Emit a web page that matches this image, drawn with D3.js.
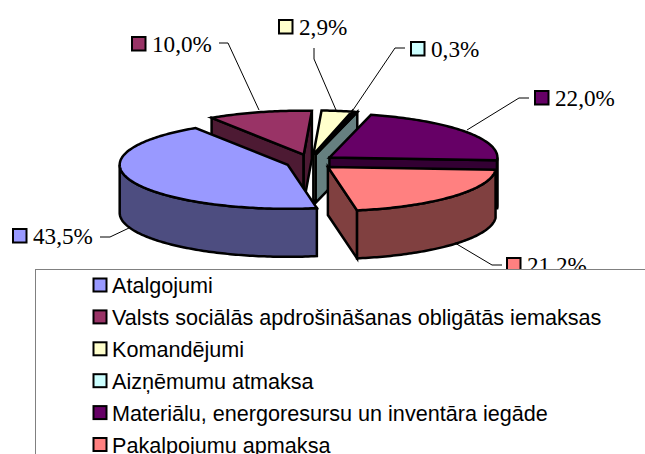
<!DOCTYPE html>
<html><head><meta charset="utf-8">
<script src="https://cdnjs.cloudflare.com/ajax/libs/d3/7.8.5/d3.min.js"></script>
<style>html,body{margin:0;padding:0;background:#fff;overflow:hidden}svg{display:block}</style>
</head><body><svg id="c" width="645" height="454"></svg>
<script>
const categories = ["Atalgojumi","Valsts sociālās apdrošināšanas obligātās iemaksas","Komandējumi","Aizņēmumu atmaksa","Materiālu, energoresursu un inventāra iegāde","Pakalpojumu apmaksa"];
const values = [43.5,10.0,2.9,0.3,22.0,21.2];
const valueLabels = ["43,5%","10,0%","2,9%","0,3%","22,0%","21,2%"];
const topColors = ["#9999FF","#993366","#FFFFCC","#CCFFFF","#660066","#FF8080"];
const sideColors = ["#4D4D80","#4D1A33","#808066","#668080","#330033","#804040"];
const drawOrder = [1,2,3,4,5,0];
const rad = Math.PI/180;
const W=645,H=454,cx=310,cy=162,rx=168,ry=44,depth=48,ex=24,ey=7.6;
const svg=d3.select("#c");
const arcs=d3.pie().sort(null).startAngle(170*rad).endAngle(530*rad)(values);
const line=d3.line();
const pt=(c,t,dy=0)=>[c[0]+rx*Math.sin(t),c[1]-ry*Math.cos(t)+dy];
const g=svg.append("g").attr("stroke","#000").attr("stroke-width",2.5).attr("stroke-linejoin","miter");
drawOrder.forEach(i=>{
  const a=arcs[i],s=a.startAngle,e=a.endAngle,m=(s+e)/2;
  const c=[cx+ex*Math.sin(m),cy-ey*Math.cos(m)];
  const arcPts=(p,q,dy=0)=>{const n=Math.max(2,Math.ceil((q-p)/rad));return d3.range(n+1).map(k=>pt(c,p+(q-p)*k/n,dy));};
  [s,e].forEach((t,j)=>{
    const ny=j===0?-Math.sin(t):Math.sin(t);
    if(ny>0){
      g.append("path").attr("fill",sideColors[i]).attr("d",line([[c[0],c[1]],pt(c,t),pt(c,t,depth),[c[0],c[1]+depth]])+"Z");
    }
  });
  for(const k of [0,1]){
    const lo=Math.max(s,90*rad+k*360*rad),hi=Math.min(e,270*rad+k*360*rad);
    if(hi>lo){
      const p=arcPts(lo,hi),q=arcPts(lo,hi,depth).reverse();
      g.append("path").attr("fill",sideColors[i]).attr("d",line(p.concat(q))+"Z");
    }
  }
  g.append("path").attr("fill",topColors[i]).attr("d",line([c].concat(arcPts(s,e)))+"Z");
});
const leaders=[[[129,228],[110,237],[100,237]],[[259,110],[228,43],[219,43]],[[336,110],[314,59],[314,48]],[[353,110],[395,48],[405,48]],[[467,130],[519,98],[529,98]],[[455,243],[492,265],[502,265]]];
svg.append("g").attr("fill","none").attr("stroke","#000").attr("stroke-width",1)
  .selectAll("path").data(leaders).join("path").attr("d",d=>line(d));
const labelKeys=[[13,229],[132,37],[279,20],[411,42],[535,91],[507,258]];
const dl=svg.append("g");
values.forEach((v,i)=>{
  const [x,y]=labelKeys[i];
  dl.append("rect").attr("x",x).attr("y",y).attr("width",13.5).attr("height",13.5).attr("fill",topColors[i]).attr("stroke","#000").attr("stroke-width",2);
  dl.append("text").attr("x",x+20).attr("y",y+14.5).attr("font-family","'Liberation Serif'").attr("font-size",23.2).attr("fill","#000").text(valueLabels[i]);
});
const lg=svg.append("g");
lg.append("rect").attr("x",35.5).attr("y",269.5).attr("width",700).attr("height",300).attr("fill","#fff").attr("stroke","#808080").attr("stroke-width",1);
const rowY=d3.scalePoint().domain(d3.range(categories.length)).range([285.5,445]);
categories.forEach((t,i)=>{
  lg.append("rect").attr("x",93.5).attr("y",rowY(i)-7).attr("width",13).attr("height",13).attr("fill",topColors[i]).attr("stroke","#000").attr("stroke-width",2);
  lg.append("text").attr("x",112).attr("y",rowY(i)+7.5).attr("font-family","'Liberation Sans'").attr("font-size",21.6).attr("fill","#000").text(t);
});
</script></body></html>
